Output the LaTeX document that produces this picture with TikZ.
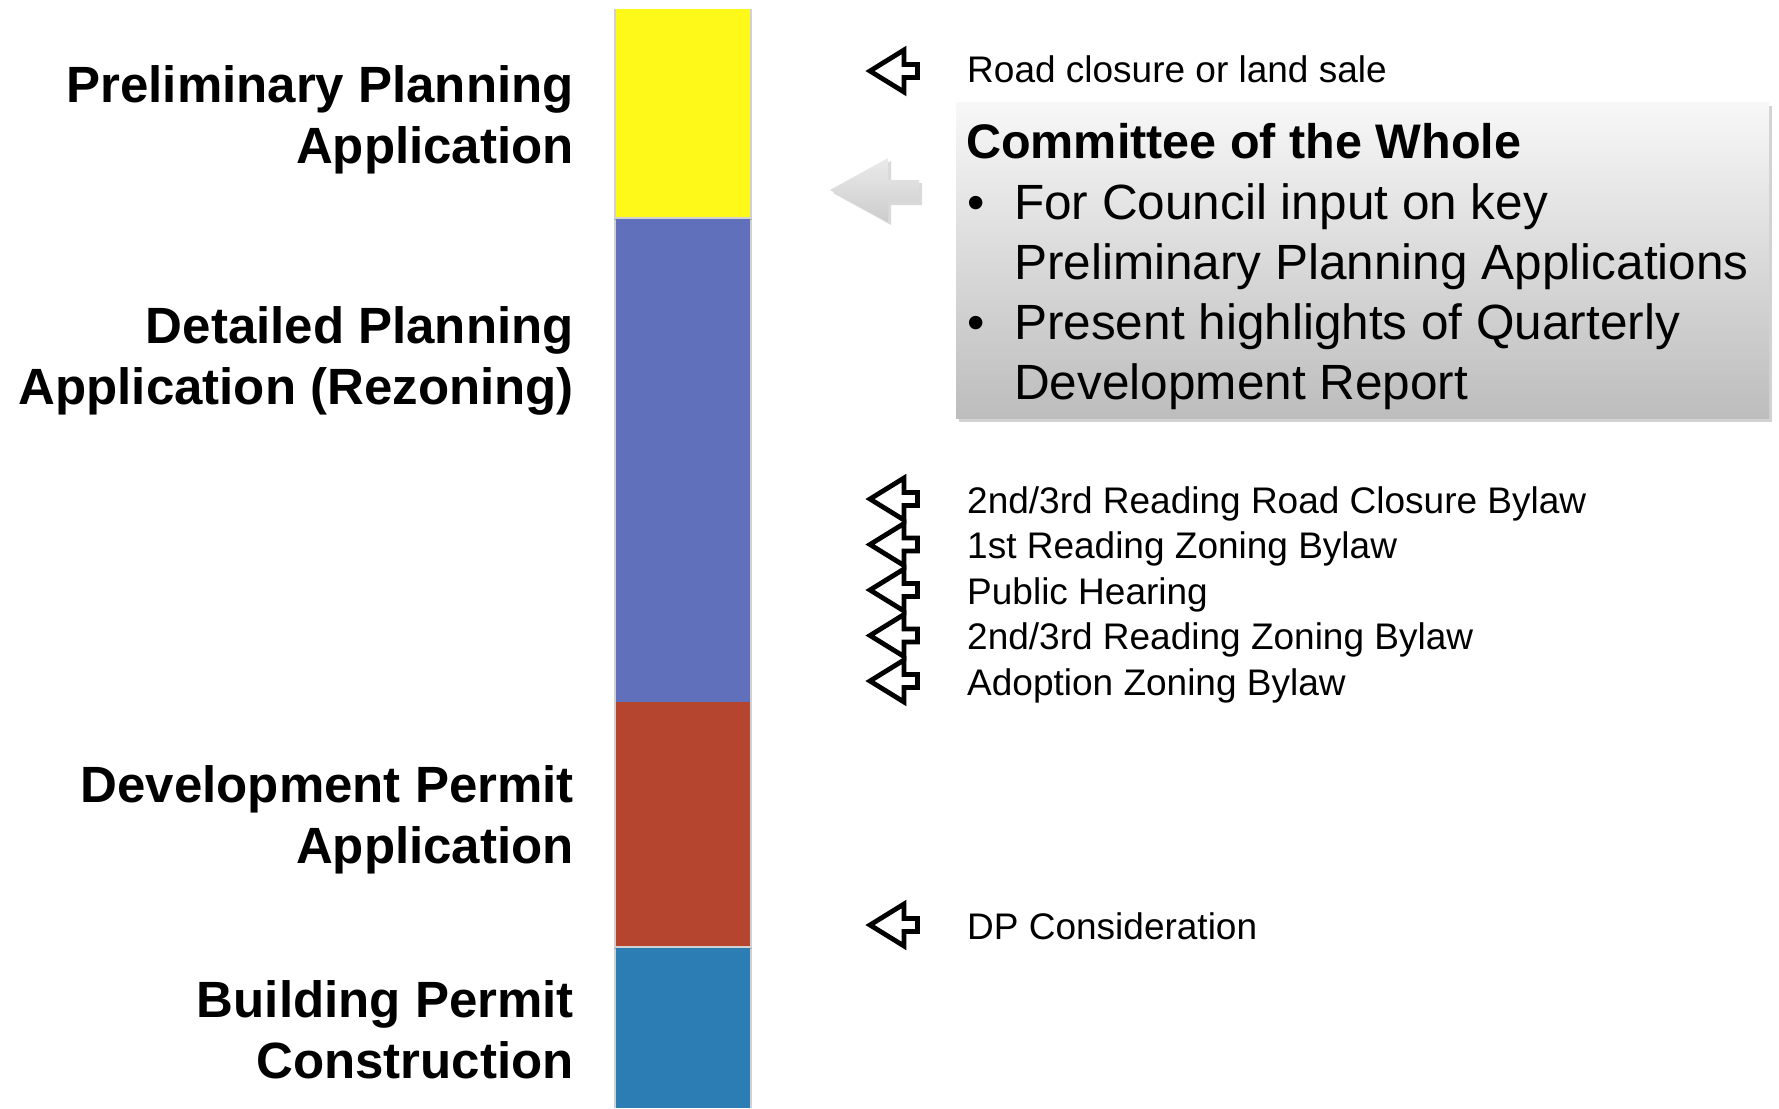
\documentclass[tikz,border=0pt]{standalone}
\usepackage{fontspec}
\setmainfont{Liberation Sans}
\usetikzlibrary{shadows}
\definecolor{segyellow}{RGB}{255,249,26}
\definecolor{segblue}{RGB}{97,112,187}
\definecolor{segred}{RGB}{182,69,48}
\definecolor{segsky}{RGB}{44,125,180}
\tikzset{
  stagelabel/.style={anchor=base east, inner sep=0pt, font=\fontsize{51}{61}\selectfont\bfseries},
  steplabel/.style={anchor=base west, inner sep=0pt, font=\fontsize{37}{44}\selectfont},
  cowtitle/.style={anchor=base west, inner sep=0pt, font=\fontsize{48.5}{60}\selectfont\bfseries},
  cowline/.style={anchor=base west, inner sep=0pt, font=\fontsize{49.5}{60}\selectfont},
  cowbox/.style={rectangle, inner sep=0pt, minimum width=813pt, minimum height=316pt,
    top color=black!3, bottom color=black!26,
    drop shadow={opacity=0.35, shadow xshift=3pt, shadow yshift=-4pt}},
  oarrow/.pic={\draw[line width=4.8pt, line join=miter, miter limit=10]
     (-25,0) -- (9,-21) -- (9,-6.5) -- (22.5,-6.5) -- (22.5,6.5) -- (9,6.5) -- (9,21) -- cycle;},
  segshadow/.style={fill=black, opacity=0.18}
}
\begin{document}
\begin{tikzpicture}[x=1pt,y=-1pt]
\useasboundingbox (0,0) rectangle (1779,1108);
\fill[white] (0,0) rectangle (1779,1108);

% stage bar
\fill[segshadow] (614,9) rectangle (752,219.5);
\fill[segyellow] (616,9) rectangle (750,216.5);
\fill[segshadow] (614,219) rectangle (752,702);
\fill[segblue] (616,219) rectangle (750,702);
\fill[segshadow] (614,702) rectangle (752,949);
\fill[segred] (616,702) rectangle (750,946);
\fill[segshadow] (614,947.5) rectangle (752,1108);
\fill[segsky] (616,947.5) rectangle (750,1108);

% stage labels
\node[stagelabel] (ppa1) at (574,102) {Preliminary Planning};
\node[stagelabel] (ppa2) at (574,163.5) {Application};
\node[stagelabel] (dpa1) at (574,343) {Detailed Planning};
\node[stagelabel] (dpa2) at (574,404.5) {Application (Rezoning)};
\node[stagelabel] (dev1) at (574,802) {Development Permit};
\node[stagelabel] (dev2) at (574,863.5) {Application};
\node[stagelabel] (bpc1) at (574,1017) {Building Permit};
\node[stagelabel] (bpc2) at (574,1078.5) {Construction};

% committee of the whole box
\node[cowbox] (cow) at (1362.5,260) {};
\node[cowtitle] (cowt) at (966,158) {Committee of the Whole};
\node[cowline] (b1) at (967,219) {•};
\node[cowline] (c1a) at (1014,219) {For Council input on key};
\node[cowline] (c1b) at (1014,279) {Preliminary Planning Applications};
\node[cowline] (b2) at (967,339) {•};
\node[cowline] (c2a) at (1014,339) {Present highlights of Quarterly};
\node[cowline] (c2b) at (1014,399) {Development Report};

% grey arrow pointing to the bar
\fill[black, opacity=0.15] (833,193) -- (891,161) -- (891,183) -- (922,183) -- (922,205) -- (891,205) -- (891,225) -- cycle;
\shade[top color=black!8, bottom color=black!20] (830,190) -- (888,158) -- (888,180) -- (919,180) -- (919,202) -- (888,202) -- (888,222) -- cycle;

% step arrows and labels
\pic at (895,71) {oarrow};
\node[steplabel] (s0) at (967,82) {Road closure or land sale};
\pic at (895,499) {oarrow};
\node[steplabel] (s1) at (967,513) {2nd/3rd Reading Road Closure Bylaw};
\pic at (895,544.5) {oarrow};
\node[steplabel] (s2) at (967,558.5) {1st Reading Zoning Bylaw};
\pic at (895,590) {oarrow};
\node[steplabel] (s3) at (967,604) {Public Hearing};
\pic at (895,635.5) {oarrow};
\node[steplabel] (s4) at (967,649.5) {2nd/3rd Reading Zoning Bylaw};
\pic at (895,681) {oarrow};
\node[steplabel] (s5) at (967,695) {Adoption Zoning Bylaw};
\pic at (895,925) {oarrow};
\node[steplabel] (s6) at (967,939) {DP Consideration};
\end{tikzpicture}
\end{document}
